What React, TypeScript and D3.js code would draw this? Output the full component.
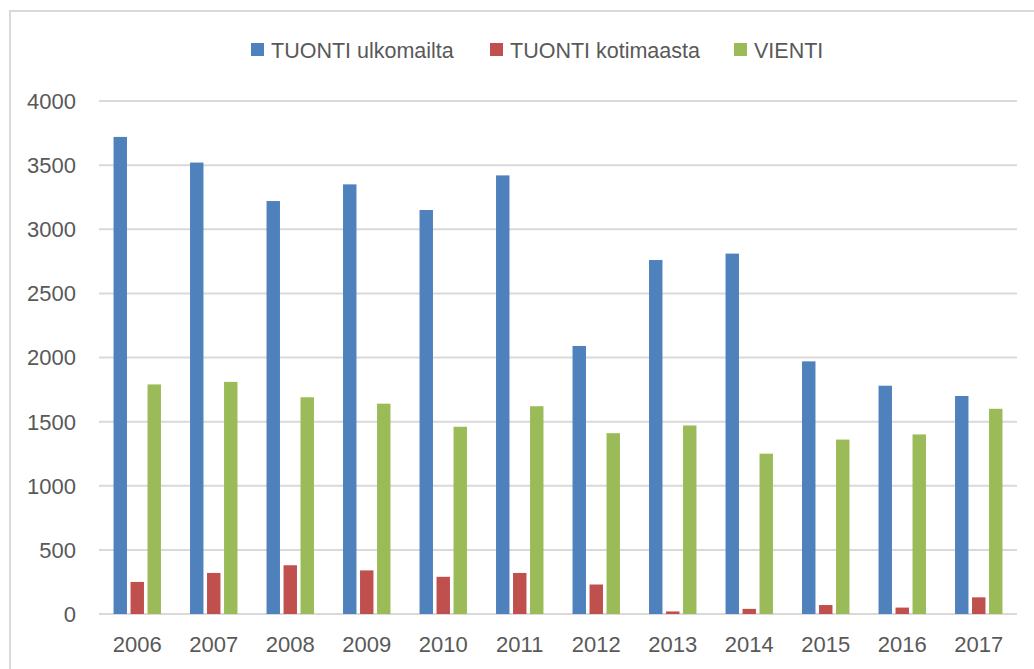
import React from 'react';
import * as d3 from 'd3';

const years = ['2006', '2007', '2008', '2009', '2010', '2011', '2012', '2013', '2014', '2015', '2016', '2017'];
const seriesNames = ['TUONTI ulkomailta', 'TUONTI kotimaasta', 'VIENTI'];
const seriesColors = ['#4f81bd', '#c0504d', '#9bbb59'];
const tuontiUlkomailta = [3720, 3520, 3220, 3350, 3150, 3420, 2090, 2760, 2810, 1970, 1780, 1700];
const tuontiKotimaasta = [250, 320, 380, 340, 290, 320, 230, 20, 40, 70, 50, 130];
const vienti = [1790, 1810, 1690, 1640, 1460, 1620, 1410, 1470, 1250, 1360, 1400, 1600];
const yTicks = [0, 500, 1000, 1500, 2000, 2500, 3000, 3500, 4000];

const W = 1034;
const H = 669;
const FONT = '"Liberation Sans", Arial, sans-serif';
const TEXT = '#595959';

export default function App() {
  const values = [tuontiUlkomailta, tuontiKotimaasta, vienti];

  const x = d3.scaleBand<string>()
    .domain(years)
    .range([99, 1017])
    .paddingInner(0.38)
    .paddingOuter(0.19);

  const xInner = d3.scaleBand<number>()
    .domain([0, 1, 2])
    .range([0, x.bandwidth()])
    .paddingInner(0.21);

  const y = d3.scaleLinear().domain([0, 4000]).range([614, 101]);

  // legend layout
  const legendX = [251, 490, 734];

  return (
    <svg width={W} height={H} style={{ position: 'absolute', left: 0, top: 0, background: '#fff' }} fontFamily={FONT}>
      <rect x={0} y={0} width={W} height={H} fill="#fff" />
      {/* chart frame */}
      <rect x={10} y={11} width={W + 20} height={H + 20} fill="none" stroke="#d9d9d9" strokeWidth={2} />

      {/* gridlines */}
      {yTicks.map(t => (
        <line key={t} x1={99} x2={1017} y1={y(t)} y2={y(t)} stroke="#d9d9d9" strokeWidth={2} />
      ))}

      {/* y labels */}
      {yTicks.map(t => (
        <text key={'l' + t} x={76} y={y(t)} dy="0.36em" textAnchor="end" fontSize={22} fill={TEXT}>{t}</text>
      ))}

      {/* bars */}
      {values.map((vals, si) => (
        <g key={si} fill={seriesColors[si]}>
          {vals.map((v, i) => (
            <rect
              key={years[i]}
              x={(x(years[i]) ?? 0) + (xInner(si) ?? 0)}
              y={y(v)}
              width={xInner.bandwidth()}
              height={y(0) - y(v)}
            />
          ))}
        </g>
      ))}

      {/* x labels */}
      {years.map(yr => (
        <text key={yr} x={(x(yr) ?? 0) + x.bandwidth() / 2} y={652} textAnchor="middle" fontSize={22} fill={TEXT}>{yr}</text>
      ))}

      {/* legend */}
      {seriesNames.map((name, i) => (
        <g key={name} transform={`translate(${legendX[i]},50)`}>
          <rect x={0} y={-7} width={13} height={13} fill={seriesColors[i]} />
          <text x={20} y={0} dy="0.36em" fontSize={21.5} fill={TEXT}>{name}</text>
        </g>
      ))}
    </svg>
  );
}
